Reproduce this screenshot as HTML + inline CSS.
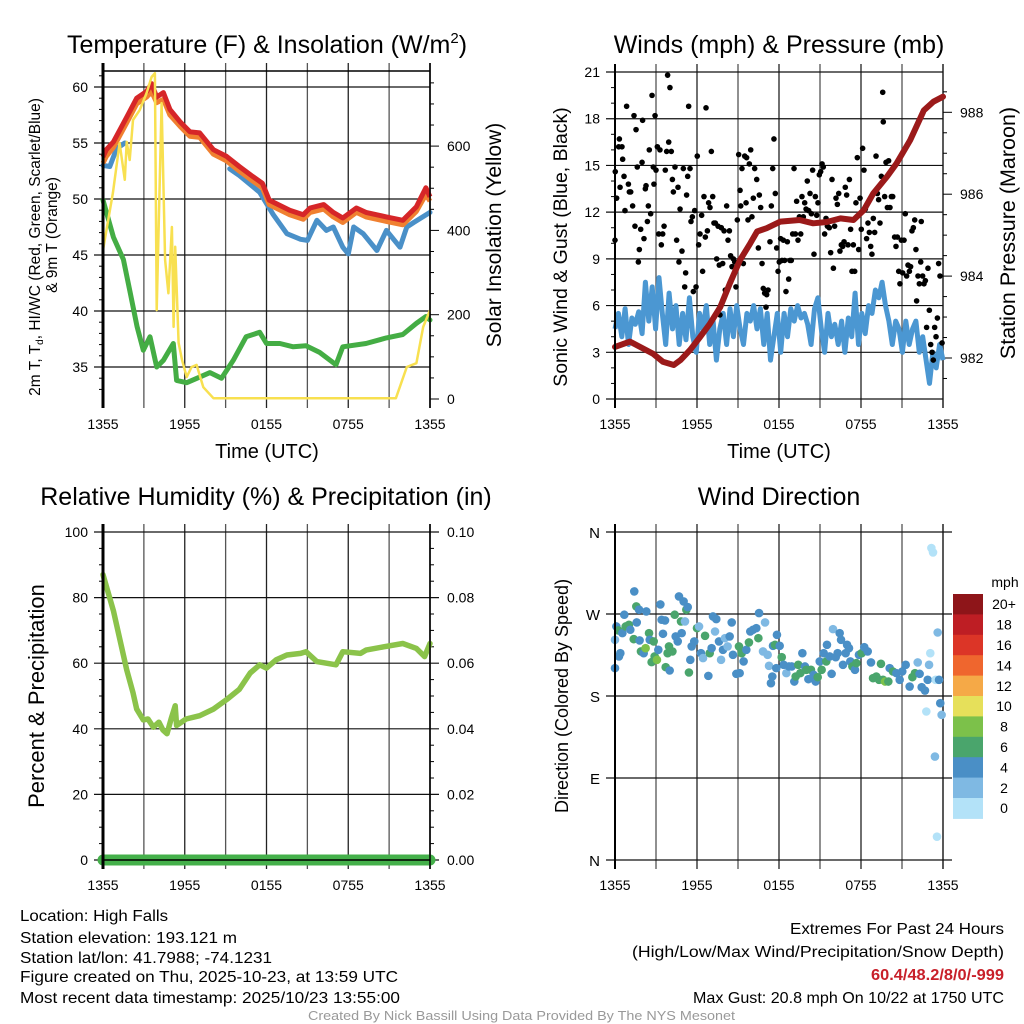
<!DOCTYPE html>
<html><head><meta charset="utf-8">
<style>
html,body{margin:0;padding:0;background:#fff;}
svg{display:block;font-family:"Liberation Sans",Arial,sans-serif;}
</style></head>
<body>
<svg id="fig" width="1024" height="1024" viewBox="0 0 1024 1024" xmlns="http://www.w3.org/2000/svg">
<rect width="1024" height="1024" fill="#fff"/>
<!-- titles -->
<text x="267" y="53" font-size="25" text-anchor="middle">Temperature (F) &amp; Insolation (W/m<tspan dy="-10" font-size="15">2</tspan><tspan dy="10">)</tspan></text>
<text x="779" y="53" font-size="25" text-anchor="middle">Winds (mph) &amp; Pressure (mb)</text>
<text x="266" y="505" font-size="25" text-anchor="middle">Relative Humidity (%) &amp; Precipitation (in)</text>
<text x="779" y="505" font-size="25" text-anchor="middle">Wind Direction</text>
<!-- axis titles -->
<text x="267" y="458" font-size="20" text-anchor="middle">Time (UTC)</text>
<text x="779" y="458" font-size="20" text-anchor="middle">Time (UTC)</text>
<text transform="translate(40,247) rotate(-90)" font-size="15.5" text-anchor="middle">2m T, T<tspan font-size="10" dy="3">d</tspan><tspan dy="-3">, HI/WC (Red, Green, Scarlet/Blue)</tspan></text>
<text transform="translate(57,235) rotate(-90)" font-size="15.5" text-anchor="middle">&amp; 9m T (Orange)</text>
<text transform="translate(501,235) rotate(-90)" font-size="21" text-anchor="middle">Solar Insolation (Yellow)</text>
<text transform="translate(567,247) rotate(-90)" font-size="19.5" text-anchor="middle">Sonic Wind &amp; Gust (Blue, Black)</text>
<text transform="translate(1015,233) rotate(-90)" font-size="21.5" text-anchor="middle">Station Pressure (Maroon)</text>
<text transform="translate(44,696) rotate(-90)" font-size="22" text-anchor="middle">Percent &amp; Precipitation</text>
<text transform="translate(568,696) rotate(-90)" font-size="18" text-anchor="middle">Direction (Colored By Speed)</text>
<g id="g1"></g><g id="g2"></g><g id="g3"></g><g id="g4"></g><g id="cb"></g>
<!-- footer -->
<g font-size="16">
<text x="20" y="921" textLength="148" lengthAdjust="spacingAndGlyphs">Location: High Falls</text>
<text x="20" y="943" textLength="217" lengthAdjust="spacingAndGlyphs">Station elevation: 193.121 m</text>
<text x="20" y="963" textLength="252" lengthAdjust="spacingAndGlyphs">Station lat/lon: 41.7988; -74.1231</text>
<text x="20" y="982" textLength="378" lengthAdjust="spacingAndGlyphs">Figure created on Thu, 2025-10-23, at 13:59 UTC</text>
<text x="20" y="1003" textLength="380" lengthAdjust="spacingAndGlyphs">Most recent data timestamp: 2025/10/23 13:55:00</text>
</g>
<g font-size="16">
<text x="790" y="934" textLength="214" lengthAdjust="spacingAndGlyphs">Extremes For Past 24 Hours</text>
<text x="632" y="957" textLength="372" lengthAdjust="spacingAndGlyphs">(High/Low/Max Wind/Precipitation/Snow Depth)</text>
<text x="871" y="980" textLength="133" lengthAdjust="spacingAndGlyphs" fill="#c8202a" font-weight="bold">60.4/48.2/8/0/-999</text>
<text x="693" y="1003" textLength="311" lengthAdjust="spacingAndGlyphs">Max Gust: 20.8 mph On 10/22 at 1750 UTC</text>
</g>
<text x="308" y="1020" font-size="13" fill="#999" textLength="427" lengthAdjust="spacingAndGlyphs">Created By Nick Bassill Using Data Provided By The NYS Mesonet</text>
</svg>
<script>
// ---------- data ----------
const timeLabels = ["1355","1955","0155","0755","1355"];
const tempHours = [0,0.24,0.76,1.74,2.47,3.2,3.57,3.94,4.43,4.91,5.65,6.38,7.1,8.1,9.07,10,11,11.7,12.2,12.7,13.7,14.7,15.2,16.2,16.9,17.6,18.6,19.3,20.8,22,23,23.7,24];
const tempRed = [53.75,54.4,55.1,57.3,59,59.6,60.3,59.1,59.5,58,56.9,56,55.9,54.4,53.8,52.9,52,51.4,49.9,49.6,49,48.6,49.2,49.5,48.8,48.3,49.2,48.8,48.4,48.1,49.3,51,50.2];
const temp9m = [53.2,53.8,54.6,56.8,58.5,59.1,59.6,58.6,58.9,57.5,56.5,55.6,55.5,54,53.4,52.5,51.6,51,49.5,49.2,48.6,48.2,48.8,49.1,48.4,47.9,48.8,48.4,48,47.7,48.9,50.4,49.8];
const blueHours = [0,0.5,1.0,1.6,1.61,3,3.01,6.6,6.61,9.3,10,11.5,12.5,13.5,14.5,15,15.7,16.4,16.9,17.6,18,18.4,19.1,20.1,20.8,21.8,22.3,22.8,24];
const tempBlue = [53,52.9,54.5,55,null,58,null,55.1,null,52.7,52.1,50.6,48.6,46.9,46.4,46.3,48.1,47.2,47.5,45.7,45.1,47.5,46.9,45.4,47.2,45.7,47.5,47.9,48.8];
const dewHours = [0,0.76,1.5,2,2.5,2.96,3.45,3.94,4.43,5.16,5.4,6.14,7.1,7.85,8.7,9.56,10.5,11.5,12,12.98,13.96,14.9,15.9,17.1,17.6,19.3,20.8,22,23,23.7,24];
const dewpoint = [49.9,46.6,44.6,41.6,38.6,36.5,37.7,35,35.6,37.1,33.8,33.6,34.1,34.5,34,35.6,37.7,38.1,37.1,37.1,36.8,36.9,36.3,35.2,36.8,37.1,37.6,37.9,38.9,39.5,39.2];
const solarHours = [0,0.73,1.22,1.6,1.74,1.96,2.2,2.7,3.2,3.57,3.81,3.94,4.3,4.56,4.8,5.06,5.18,5.3,5.55,5.8,6.14,6.5,6.87,7.36,8.1,21.5,22.3,23,23.5,24];
const solarValues = [353,489,607,520,610,567,662,686,726,764,773,211,702,330,251,408,171,361,133,93,52,76,81,28,2,2,76,85,171,211];
const windSpeed = [4.5,5.5,4,5.8,3.5,5.2,4.8,5.6,4.2,7.5,5,7.2,4.5,7.8,5.5,3.5,6.8,4.5,6,3.5,5.5,3.8,6.5,4,3,5.5,4.5,6,3.5,5,2.5,4.5,5.5,3.5,5.8,4,6,4.5,3.5,5.5,5,6,4.5,5.8,3.5,5.5,2.5,4,5.5,3,5.5,4,5.8,5,6,5.2,5.5,4.8,3.5,5.8,6.5,4.5,3,5.5,4,4.8,3.5,5,3,5.2,4,6.8,3.5,5.5,4.2,6,5.5,7,6.5,7.5,6,5,3.5,5,4.5,3,5,3.5,4.5,5,3,4,2.5,1,3,2,3.5,2.5];
const presHours = [0,1.1,1.83,2.8,3.5,4.3,4.8,5.5,6.2,6.95,7.7,8.4,9.15,9.9,10.4,11.1,12.1,13.5,14.5,15.5,16.5,17.45,18.2,18.9,19.9,20.6,21.6,22.6,23.3,24];
const presValues = [982.27,982.4,982.27,982.1,981.91,981.83,981.95,982.2,982.5,982.84,983.24,983.82,984.39,984.8,985.09,985.17,985.33,985.37,985.29,985.32,985.41,985.37,985.61,986.02,986.43,986.75,987.32,988.05,988.26,988.38];
const gustHours = [0,0.02,0.12,0.27,0.32,0.37,0.51,0.56,0.66,0.73,0.85,0.98,1.05,1.15,1.29,1.39,1.46,1.54,1.63,1.71,1.78,1.88,1.98,2.02,2.12,2.22,2.27,2.37,2.44,2.51,2.61,2.71,2.8,2.85,2.93,3,3.1,3.2,3.29,3.39,3.49,3.59,3.68,3.78,3.85,3.93,4.02,4.12,4.2,4.27,4.39,4.51,4.61,4.68,4.76,4.9,5,5.1,5.17,5.24,5.32,5.39,5.49,5.56,5.66,5.73,5.83,5.93,6.02,6.12,6.22,6.34,6.41,6.51,6.61,6.66,6.76,6.85,6.95,7.05,7.15,7.24,7.34,7.44,7.54,7.63,7.68,7.78,7.88,7.98,8.07,8.17,8.27,8.37,8.46,8.56,8.66,8.76,8.85,8.95,9.05,9.15,9.2,9.29,9.39,9.49,9.59,9.63,9.73,9.83,9.93,10.02,10.12,10.22,10.37,10.49,10.56,10.66,10.76,10.85,10.95,11.05,11.1,11.2,11.34,11.44,11.54,11.63,11.73,11.83,11.93,12.02,12.12,12.22,12.32,12.41,12.51,12.61,12.71,12.8,12.9,13,13.1,13.2,13.29,13.39,13.49,13.59,13.68,13.78,13.88,13.98,14.07,14.17,14.27,14.37,14.46,14.56,14.66,14.76,14.85,14.95,15.05,15.15,15.24,15.34,15.44,15.54,15.68,15.78,15.88,15.98,16.07,16.17,16.27,16.37,16.46,16.56,16.66,16.76,16.85,16.95,17.05,17.15,17.24,17.34,17.44,17.54,17.63,17.73,17.83,17.93,18.02,18.12,18.22,18.32,18.41,18.51,18.61,18.71,18.8,18.9,19,19.1,19.2,19.29,19.39,19.49,19.59,19.63,19.73,19.83,19.93,20.02,20.12,20.22,20.32,20.46,20.56,20.66,20.76,20.85,20.95,21.05,21.15,21.24,21.34,21.44,21.54,21.63,21.73,21.83,21.93,22.02,22.07,22.17,22.27,22.37,22.41,22.51,22.61,22.71,22.8,22.9,23,23.1,23.2,23.29,23.39,23.49,23.59,23.68,23.78,23.93];
const gustSpeeds = [10.2,14.6,12.9,16.2,16.7,13.6,16.2,15.4,14.3,12.1,18.8,13.8,13.3,13.3,12.4,18.2,11.1,17.3,14.9,8.8,9.6,10.9,15.2,17.9,10.3,13.5,13.7,11.4,12.4,16,11.9,19.5,14.9,13.8,18.2,14.7,16.2,10.6,16,9.9,10.6,11.1,14.7,15.9,20.8,16.5,20,15.9,14.1,13.3,14.9,10.2,13.6,8.8,12.2,9.5,14.8,7.2,8.1,13.1,14.3,18.8,14.8,11.4,11.7,6.9,12.1,7.2,15.6,9.9,10.6,11.8,8.2,13,10.4,18.7,10.8,12.6,12.3,15.9,13,11.3,11.3,9,11.1,8.6,5.4,11,8.7,10.8,7,12.4,10.2,10.8,9.2,8.5,9,8.8,7.2,11.5,15.7,13.4,12.4,14.8,8.7,15.6,12.6,15.5,11.5,15.1,16,11.7,12.9,14.8,14.1,9.7,13.1,12.3,8.7,7.1,6.8,5.9,6.7,7,10.1,12.4,14.8,16.7,13.2,9.7,8.2,8.8,10.3,8.9,10.2,8.9,6.9,10.1,7.7,8.9,8.9,10.6,14.8,10.6,12.7,10.2,11.7,10.6,13,11.7,12.6,12.2,14,12.1,13.2,11.9,14.7,9.3,13,11.8,12.6,14.4,14.6,15.1,14.9,10.6,11.6,11.1,11,9.4,14.1,8.4,11.1,12.9,12.5,13.2,9.5,9.9,9.8,10.1,13.6,13.1,9.9,14.1,10.9,8.2,9.9,8.2,12.6,15.5,9.6,12.9,10.9,16.1,14.7,12.2,10.3,11.3,10.7,9.8,9.3,11.6,10.7,15.6,13.2,12.8,11.3,14.3,19.7,17.8,13,15.2,12.3,15.3,12.3,13,13,10.4,9.8,10.4,8.2,7.4,10.2,8.1,10.2,11.9,7.9,8.6,8.2,8.5,10.8,11,11.5,9.6,6.3,7.9,7.4,8.8,11.4,7.9,7.4,7.6,4.6,8.4,5.7,3.5,3,2.5,4.6,4,5.2,8.7,7.9,3.6];
const rhHours = [0,0.76,1.74,2.2,2.47,2.96,3.3,3.7,4.1,4.4,4.7,5.0,5.3,5.4,6.1,7.1,8.1,9.1,10,10.8,11.5,12,12.7,13.5,14.5,14.9,15.7,16.4,17.1,17.6,18.9,19.3,20.6,22,23,23.6,24];
const rhValues = [87,76,58,51,46,42.7,43,40.5,42,39.6,38.5,43,47,41,43,44,46,49,52,57,59.5,58.5,61,62.5,63,63.5,60.5,60,59.5,63.5,63,64,65,66,64.5,62,66];
const precipValues = [0,0,0,0,0,0,0,0,0,0,0,0,0,0,0,0,0,0,0,0,0,0,0,0,0];
const dirHours = [0,0,0.1,0.24,0.29,0.39,0.54,0.68,0.78,1.02,1.12,1.37,1.41,1.56,1.59,1.76,1.8,1.9,2.1,2.24,2.29,2.49,2.54,2.68,2.83,2.9,3.07,3.17,3.32,3.41,3.51,3.66,3.71,3.85,3.95,4.0,4.2,4.37,4.44,4.59,4.68,4.83,4.88,5.02,5.12,5.22,5.32,5.41,5.51,5.61,5.8,6.0,6.15,6.29,6.44,6.59,6.83,6.93,7.07,7.17,7.32,7.41,7.61,7.76,7.9,8.05,8.24,8.39,8.54,8.63,8.88,9.07,9.12,9.27,9.41,9.61,9.8,9.9,10.1,10.34,10.49,10.54,10.83,10.98,11.17,11.27,11.41,11.51,11.56,11.71,11.8,11.85,12.05,12.2,12.34,12.54,12.73,12.93,13.12,13.22,13.41,13.56,13.71,13.9,14.0,14.15,14.34,14.54,14.68,14.83,14.98,15.12,15.27,15.46,15.51,15.71,15.85,15.95,16.15,16.29,16.44,16.54,16.68,16.88,16.98,17.12,17.22,17.37,17.56,17.66,17.85,18.05,18.24,18.49,18.73,18.88,19.12,19.32,19.46,19.61,19.76,20.0,20.1,20.34,20.59,20.83,21.02,21.27,21.56,21.76,21.95,22.15,22.29,22.44,22.68,22.78,22.88,22.98,23.07,23.15,23.27,23.41,23.46,23.56,23.61,23.71,23.8,23.9];
const dirDegrees = [241.7,210.6,256.3,252.0,223.4,227.0,249.0,269.2,256.3,258.2,252.7,242.4,294.8,278.3,260.7,274.7,241.0,228.9,227.0,232.5,272.8,249.0,241.7,217.2,239.9,223.4,219.7,230.7,280.5,263.7,248.3,262.9,211.7,227.0,234.4,208.0,228.9,269.2,245.4,239.9,289.3,261.8,249.0,283.8,261.8,274.7,277.6,205.8,219.7,234.4,239.9,254.5,256.3,227.0,221.6,246.1,202.1,227.0,232.5,267.3,250.8,264.4,239.9,219.7,230.7,243.5,234.4,245.4,260.7,225.2,204.3,234.4,205.1,227.0,217.9,230.7,238.8,250.8,252.7,254.5,243.5,271.0,228.9,260.7,225.2,213.1,194.1,201.4,235.1,236.2,210.6,247.2,235.1,222.6,214.2,205.1,212.4,212.4,195.9,201.4,214.2,205.1,227.0,212.4,208.7,198.5,208.7,203.2,195.9,200.7,217.9,208.7,227.0,217.9,236.2,223.4,204.3,253.4,222.6,227.0,249.0,241.7,214.2,227.0,236.2,232.5,217.9,212.4,208.7,216.1,225.2,227.0,233.6,228.9,216.8,199.6,201.4,197.8,215.3,197.8,195.9,195.9,210.6,206.9,205.1,197.8,206.9,214.2,190.4,200.7,205.1,216.8,204.3,189.7,186.0,163.0,197.8,214.2,227.0,342.4,337.6,113.5,197.8,25.6,249.7,197.8,172.1,159.3];
const dirSpeeds = [3,4.5,4.5,7,4.5,4.5,4.5,4.5,7,7,4.5,7,4.5,7,4.5,4.5,4.5,7,4.5,8.5,4.5,7,4.5,7,7,7,8.5,4.5,4.5,4.5,4.5,4.5,7,7,7,4.5,7,7,4.5,4.5,4.5,7,4.5,4.5,3,7,4.5,7,4.5,4.5,4.5,7,3,4.5,3,7,4.5,7,4.5,4.5,3,4.5,4.5,3,4.5,3,3,4.5,4.5,4.5,4.5,7,4.5,7,4.5,4.5,7,4.5,4.5,4.5,7,4.5,3,3,3,3,4.5,4.5,4.5,7,4.5,4.5,4.5,7,4.5,3,4.5,4.5,4.5,7,7,7,4.5,4.5,7,4.5,7,4.5,4.5,7,4.5,7,4.5,7,4.5,4.5,4.5,3,4.5,4.5,4.5,4.5,4.5,4.5,4.5,4.5,4.5,7,4.5,7,4.5,7,4.5,4.5,4.5,7,7,7,7,7,8.5,7,4.5,7,4.5,4.5,4.5,4.5,4.5,7,7,3,4.5,4.5,4.5,1,4.5,3,1,1,1,3,1,1,3,4.5,4.5,3];
const cbLabels = ["20+","18","16","14","12","10","8","6","4","2","0"];
const cbColors = ["#8e1519","#be1e24","#dc3527","#ef662e","#f5a947","#e6e05a","#7cc14a","#4aa56c","#4a8fc6","#7fb9e3","#b3e2f8"];

// ---------- helpers ----------
const NS = "http://www.w3.org/2000/svg";
function mk(parent, tag, attrs, name){
  const e = document.createElementNS(NS, tag);
  for (const k in attrs) e.setAttribute(k, attrs[k]);
  
  
  parent.appendChild(e); return e;
}
function txt(parent, x, y, s, size, anchor, name){
  const t = mk(parent, 'text', {x:x, y:y, 'font-size':size, 'text-anchor':anchor}, name);
  t.textContent = s; return t;
}
function speedColor(v){ let i = Math.min(10, Math.floor(v/2)); return cbColors[10-i]; }
function lineD(xs, ys, xf, yf){
  let d = "", pen = false;
  for (let i=0;i<xs.length;i++){
    if (ys[i]===null){ pen=false; continue; }
    d += (pen?"L":"M") + xf(xs[i]).toFixed(1) + " " + yf(ys[i]).toFixed(1);
    pen = true;
  }
  return d;
}
function frame(g, x0, x1, y0, y1, name){
  for (let i=0;i<=8;i++){
    const x = x0 + (x1-x0)*i/8;
    mk(g,'line',{x1:x,x2:x,y1:y0-8,y2:y1+9,stroke:(i%2?"#555":"#222"),'stroke-width':(i===0||i===8)?1.5:1.3}, name+'-vgrid');
  }
  for (let i=0;i<timeLabels.length;i++){
    txt(g, x0+(x1-x0)*i/4, y1+30, timeLabels[i], 14, 'middle', name+'-x-tick-label');
  }
}
const hx = (x0,x1)=> h => x0 + (x1-x0)*h/24;

// ---------- panel 1: temperature ----------
(function(){
  const g = document.getElementById('g1');
  const X0=103,X1=430,Y0=71,Y1=399;
  const xf = hx(X0,X1);
  const yT = t => 87 + (60-t)*11.2;
  const yS = s => 399 - s*0.4215;
  frame(g,X0,X1,Y0,Y1,'temp');
  mk(g,'line',{x1:X0,x2:X1,y1:Y0,y2:Y0,stroke:"#000",'stroke-width':1.5},'temp-top-border');
  for (let t=35;t<=60;t+=5){
    const y=yT(t);
    mk(g,'line',{x1:X0-9,x2:X1,y1:y,y2:y,stroke:"#111",'stroke-width':1.2},'temp-hgrid');
    txt(g,X0-15,y+5,String(t),14,'end','temp-y-tick-label');
  }
  for (let t=33;t<=61;t+=1) if (t%5){ mk(g,'line',{x1:X0-4,x2:X0,y1:yT(t),y2:yT(t),stroke:"#000"},'temp-minor-tick'); }
  for (let s=0;s<=700;s+=200){
    const y=yS(s);
    mk(g,'line',{x1:X1,x2:X1+9,y1:y,y2:y,stroke:"#000"},'solar-tick');
    txt(g,X1+17,y+5,String(s),14,'start','solar-y-tick-label');
  }
  for (let s=50;s<=750;s+=50) if (s%200){ mk(g,'line',{x1:X1,x2:X1+4,y1:yS(s),y2:yS(s),stroke:"#000"},'solar-minor-tick'); }
  mk(g,'path',{d:lineD(dewHours,dewpoint,xf,yT),fill:"none",stroke:"#44ad44",'stroke-width':5,'stroke-linejoin':'round','stroke-linecap':'round'},'dewpoint-line');
  mk(g,'path',{d:lineD(blueHours,tempBlue,xf,yT),fill:"none",stroke:"#4a90c8",'stroke-width':5,'stroke-linejoin':'round','stroke-linecap':'round'},'wind-chill-line');
  mk(g,'path',{d:lineD(tempHours,temp9m,xf,yT),fill:"none",stroke:"#f08030",'stroke-width':5,'stroke-linejoin':'round'},'temp-9m-line');
  mk(g,'path',{d:lineD(tempHours,tempRed,xf,yT),fill:"none",stroke:"#d62628",'stroke-width':5,'stroke-linejoin':'round'},'temp-2m-line');
  mk(g,'path',{d:lineD(solarHours,solarValues,xf,yS),fill:"none",stroke:"#f8e050",'stroke-width':2.5,'stroke-linejoin':'round'},'solar-line');
  mk(g,'line',{x1:X0,x2:X0,y1:Y0-8,y2:Y1+9,stroke:"#000",'stroke-width':3},'temp-left-axis');
  mk(g,'line',{x1:X1,x2:X1,y1:Y0-8,y2:Y1+9,stroke:"#000",'stroke-width':1.5},'temp-right-axis');
})();

// ---------- panel 2: winds ----------
(function(){
  const g = document.getElementById('g2');
  const X0=615,X1=943,Y0=72,Y1=399;
  const xf = hx(X0,X1);
  const yW = v => 399 - v*15.57;
  const yP = p => 358 - (p-982)*40.95;
  frame(g,X0,X1,Y0,Y1,'wind');
  for (let v=0;v<=21;v+=3){
    const y=yW(v);
    mk(g,'line',{x1:X0-9,x2:X1,y1:y,y2:y,stroke:"#111",'stroke-width':1.2},'wind-hgrid');
    txt(g,X0-15,y+5,String(v),14,'end','wind-y-tick-label');
  }
  for (let v=1;v<21;v++) if (v%3){ mk(g,'line',{x1:X0-4,x2:X0,y1:yW(v),y2:yW(v),stroke:"#000"},'wind-minor-tick'); }
  for (let p=982;p<=988;p+=2){
    const y=yP(p);
    mk(g,'line',{x1:X1,x2:X1+9,y1:y,y2:y,stroke:"#000"},'pressure-tick');
    txt(g,X1+17,y+5,String(p),14,'start','pressure-y-tick-label');
  }
  for (let p=981.5;p<=988.9;p+=0.5) if (p%2){ mk(g,'line',{x1:X1,x2:X1+4,y1:yP(p),y2:yP(p),stroke:"#000"},'pressure-minor-tick'); }
  const wh = windSpeed.map((v,i)=> i*24/(windSpeed.length-1));
  mk(g,'path',{d:lineD(wh,windSpeed,xf,yW),fill:"none",stroke:"#4b97d2",'stroke-width':5,'stroke-linejoin':'round'},'sonic-wind-line');
  for (let i=0;i<gustHours.length;i++){
    mk(g,'circle',{cx:xf(gustHours[i]),cy:yW(gustSpeeds[i]),r:2.8,fill:"#000"},'gust-point');
  }
  mk(g,'path',{d:lineD(presHours,presValues,xf,yP),fill:"none",stroke:"#9b1a1a",'stroke-width':6,'stroke-linejoin':'round','stroke-linecap':'round'},'pressure-line');
  mk(g,'line',{x1:X0,x2:X0,y1:Y0-8,y2:Y1+9,stroke:"#000",'stroke-width':2},'wind-left-axis');
})();

// ---------- panel 3: humidity ----------
(function(){
  const g = document.getElementById('g3');
  const X0=103,X1=430,Y0=532,Y1=860;
  const xf = hx(X0,X1);
  const yR = r => 860 - r*3.28;
  frame(g,X0,X1,Y0,Y1,'rh');
  for (let r=0;r<=100;r+=20){
    const y=yR(r);
    mk(g,'line',{x1:X0-9,x2:X1+9,y1:y,y2:y,stroke:"#111",'stroke-width':1.2},'rh-hgrid');
    txt(g,X0-15,y+5,String(r),14,'end','rh-y-tick-label');
    txt(g,X1+17,y+5,(r/1000).toFixed(2),14,'start','precip-y-tick-label');
  }
  for (let r=5;r<100;r+=5) if (r%20){
    mk(g,'line',{x1:X0-4,x2:X0,y1:yR(r),y2:yR(r),stroke:"#000"},'rh-minor-tick');
    mk(g,'line',{x1:X1,x2:X1+4,y1:yR(r),y2:yR(r),stroke:"#000"},'precip-minor-tick');
  }
  mk(g,'path',{d:lineD(rhHours,rhValues,xf,yR),fill:"none",stroke:"#8bc34a",'stroke-width':5.5,'stroke-linejoin':'round','stroke-linecap':'round'},'rh-line');
  const ph = precipValues.map((v,i)=> i*24/(precipValues.length-1));
  mk(g,'path',{d:lineD(ph,precipValues,xf,p=>860-p*3280),fill:"none",stroke:"#44b04a",'stroke-width':11,'stroke-linecap':'round'},'precip-line');
  mk(g,'line',{x1:X0,x2:X1,y1:Y1,y2:Y1,stroke:"#000",'stroke-width':1.5},'rh-bottom-axis');
  mk(g,'line',{x1:X0,x2:X0,y1:Y0-8,y2:Y1+9,stroke:"#000",'stroke-width':3},'rh-left-axis');
  mk(g,'line',{x1:X1,x2:X1,y1:Y0-8,y2:Y1+9,stroke:"#000",'stroke-width':1.5},'rh-right-axis');
})();

// ---------- panel 4: wind direction ----------
(function(){
  const g = document.getElementById('g4');
  const X0=615,X1=943,Y0=532,Y1=860;
  const xf = hx(X0,X1);
  const yD = d => 860 - d/360*328;
  frame(g,X0,X1,Y0,Y1,'dir');
  const dl = ["N","E","S","W","N"];
  for (let i=0;i<5;i++){
    const y=yD(i*90);
    mk(g,'line',{x1:X0-9,x2:X1+9,y1:y,y2:y,stroke:"#111",'stroke-width':1.2},'dir-hgrid');
    txt(g,X0-15,y+6,dl[i],15,'end','dir-y-tick-label');
  }
  const n = Math.min(dirHours.length, dirDegrees.length, dirSpeeds.length);
  for (let i=0;i<n;i++){
    mk(g,'circle',{cx:xf(dirHours[i]),cy:yD(dirDegrees[i]),r:4.3,fill:speedColor(dirSpeeds[i])},'direction-point');
  }
  mk(g,'line',{x1:X0,x2:X0,y1:Y0-8,y2:Y1+9,stroke:"#000",'stroke-width':2},'dir-left-axis');
})();

// ---------- colorbar ----------
(function(){
  const g = document.getElementById('cb');
  const x=953,w=30,y0=594,bh=20.4;
  txt(g,1005,587,"mph",14,'middle','colorbar-title');
  for (let i=0;i<cbColors.length;i++){
    mk(g,'rect',{x:x,y:y0+i*bh,width:w,height:bh+0.5,fill:cbColors[i]},'colorbar-bin');
    txt(g,1004,y0+i*bh+bh/2+5,cbLabels[i],14,'middle','colorbar-label');
  }
})();
</script>
</body></html>
